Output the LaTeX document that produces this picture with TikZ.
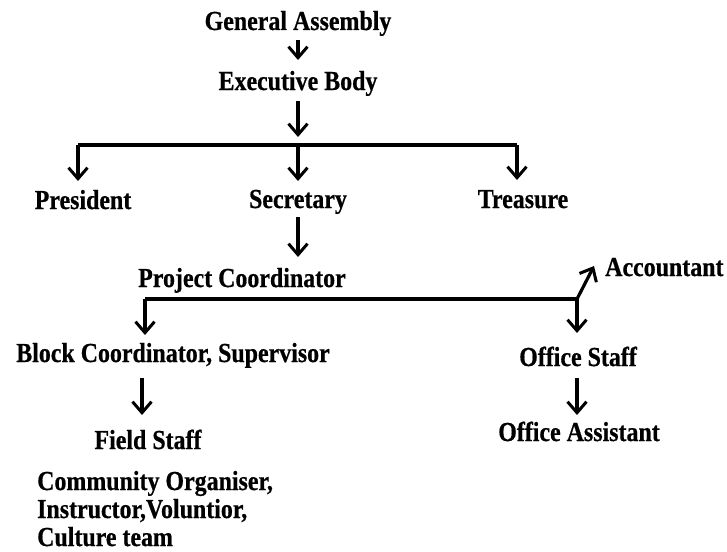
\documentclass[tikz,border=0pt]{standalone}
\usepackage{fontspec}
\setmainfont{Liberation Serif}[BoldFeatures={FakeStretch=0.87,FakeBold=0.6}]
\usetikzlibrary{arrows.meta}
\begin{document}
\begin{tikzpicture}[x=1pt,y=-1pt,
  lbl/.style={font=\bfseries\fontsize{27.5}{31}\selectfont, inner sep=0pt, anchor=base},
  lbll/.style={lbl, anchor=base west},
  conn/.style={line width=3.2pt, black},
  arr/.style={conn, -{Straight Barb[length=11pt,width=19pt,line width=3pt]}}]
\useasboundingbox (0,0) rectangle (727,551);
% nodes
\node[lbl] (ga) at (298,30) {General Assembly};
\node[lbl] (eb) at (298,90) {Executive Body};
\node[lbl] (pr) at (83,209) {President};
\node[lbl] (se) at (298,208) {Secretary};
\node[lbl] (tr) at (523,208) {Treasure};
\node[lbl] (pc) at (242,287) {Project Coordinator};
\node[lbll] (ac) at (605,276) {Accountant};
\node[lbl] (bc) at (173,362) {Block Coordinator, Supervisor};
\node[lbl] (os) at (578,366) {Office Staff};
\node[lbl] (fs) at (148,449) {Field Staff};
\node[lbl] (oa) at (579,441) {Office Assistant};
\node[lbll] (co1) at (37,490) {Community Organiser,};
\node[lbll] (co2) at (37,518) {Instructor,Voluntior,};
\node[lbll] (co3) at (37,546) {Culture team};
% branch points
\coordinate (b1) at (298,145);
\coordinate (b1a) at (298,137);
\coordinate (bl) at (78,145);
\coordinate (br) at (517,145);
\coordinate (b2l) at (145,299);
\coordinate (b2r) at (577,299);
% connectors
\draw[arr] (298,40) -- (298,60);
\draw[arr] (298,101) -- (b1a);
\draw[conn] (bl) -- (br);
\draw[arr] (bl) -- (78,181);
\draw[arr] (b1) -- (298,181);
\draw[arr] (br) -- (517,180);
\draw[arr] (298,217) -- (298,257);
\draw[conn] (b2l) -- (b2r);
\draw[arr] (b2l) -- (145,335);
\draw[arr] (b2r) -- (577,333);
\draw[arr] (b2r) -- (594,266);
\draw[arr] (142,378) -- (142,415);
\draw[arr] (577,378) -- (577,415);
\end{tikzpicture}
\end{document}
